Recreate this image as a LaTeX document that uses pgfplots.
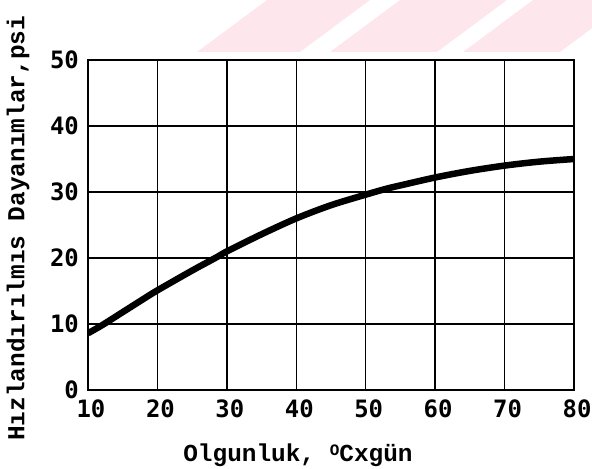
\documentclass[border=0pt]{standalone}
\usepackage{fontspec}
\usepackage{pgfplots}
\pgfplotsset{compat=1.18}
\setmonofont{Liberation Mono}
\newfontfamily\tickfont{DejaVu Sans Mono}
\definecolor{wm}{RGB}{253,231,236}
\begin{document}
\begin{tikzpicture}
\path[use as bounding box] (-88bp,-79bp) rectangle (504bp,390bp);
\fill[wm] (109bp,338bp) -- (212bp,338bp) -- (282bp,390bp) -- (179bp,390bp) -- cycle;
\fill[wm] (242bp,338bp) -- (349bp,338bp) -- (419bp,390bp) -- (312bp,390bp) -- cycle;
\fill[wm] (375bp,338bp) -- (472bp,338bp) -- (504bp,361.8bp) -- (504bp,390bp) -- (445bp,390bp) -- cycle;
\begin{axis}[
  at={(0,0)}, anchor=south west,
  scale only axis, width=486bp, height=330bp,
  xmin=10, xmax=80, ymin=0, ymax=50,
  xtick={10,20,...,80}, ytick={0,10,...,50},
  major tick length=0pt,
  grid=major,
  grid style={black, line width=1.4pt},
  axis line style={black, line width=1.6pt},
  /pgf/number format/assume math mode=true,
  ticklabel style={font=\tickfont\bfseries\fontsize{24}{26}\selectfont, inner sep=1bp},
  xticklabel style={yshift=-9bp, xshift=3bp},
  yticklabel style={xshift=-8bp},
  xlabel={Olgunluk, \raisebox{0.45ex}{\fontsize{16}{17}\selectfont O}Cxgün},
  ylabel={Hızlandırılmıs Dayanımlar,psi},
  label style={font=\ttfamily\bfseries\fontsize{24.5}{27}\selectfont},
  xlabel style={at={(axis description cs:0.432,-0.197)}, anchor=center},
  ylabel style={at={(axis description cs:-0.144,0.49)}, anchor=center},
]
\addplot[black, line width=6.5bp, smooth] coordinates {
(10,8.6) (12,9.8) (15,11.8) (18,13.8) (20,15.1) (25,18.1) (28.5,20.1) (30,21.0)
(35,23.6) (40,26.0) (45,28.0) (50,29.6) (53,30.5) (55,31.0) (60,32.2)
(65,33.2) (70,34.0) (75,34.6) (80,35.0)
};
\end{axis}
\end{tikzpicture}
\end{document}
